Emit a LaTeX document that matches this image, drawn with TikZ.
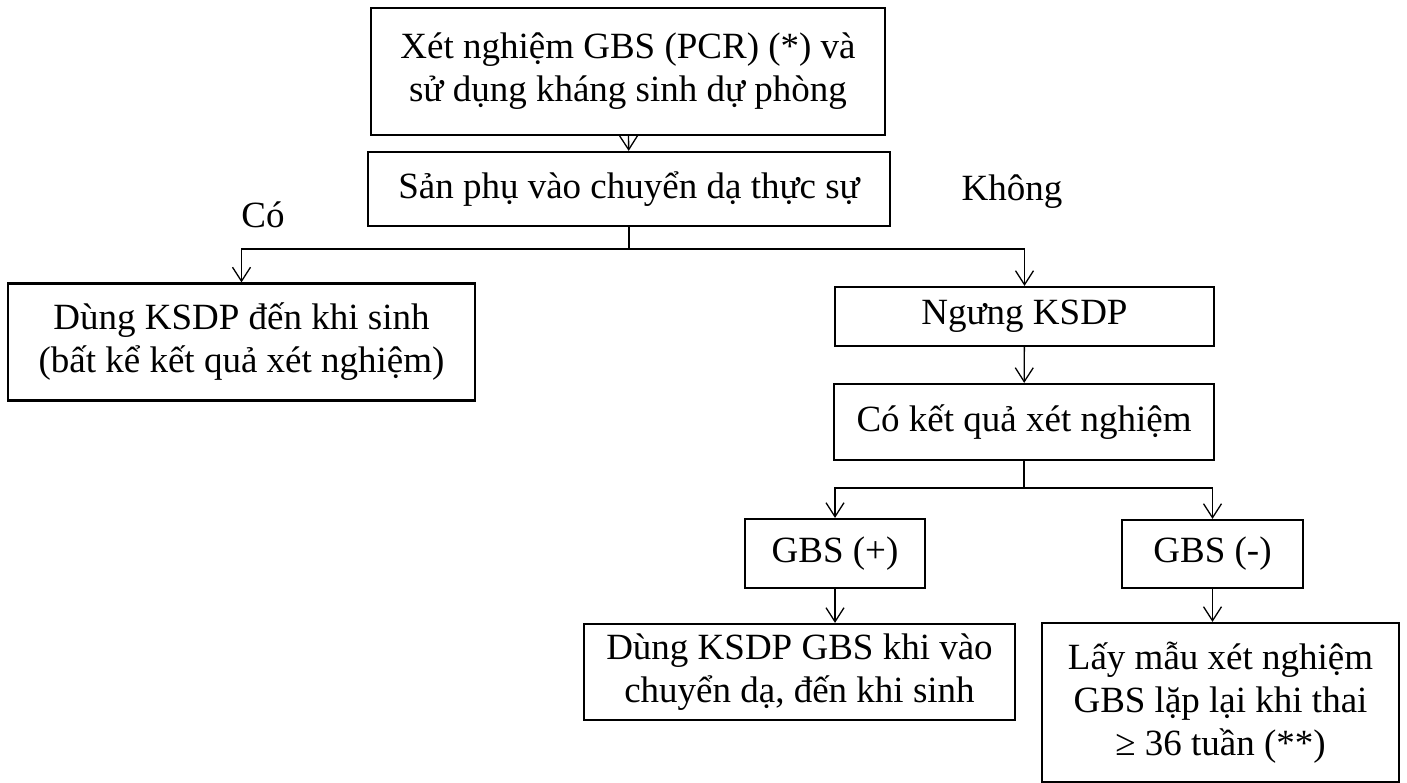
\documentclass[tikz,border=0pt]{standalone}
\usepackage{fontspec}
\setmainfont{Liberation Serif}
\usetikzlibrary{arrows.meta}

\begin{document}
\begin{tikzpicture}[x=1pt, y=-1pt,
  box/.style = {draw, line width=2.2pt, align=center, inner sep=0pt, font=\fontsize{37}{43}\selectfont},
  arr/.style = {line width=1.3pt, -{Straight Barb[length=14pt, width=18pt]}},
  lbl/.style = {font=\fontsize{37}{43}\selectfont}]
\useasboundingbox (0,0) rectangle (1407,783);
\node[box, minimum width=514, minimum height=127] (test) at (628, 71.5) {Xét nghiệm GBS (PCR) (*) và\\sử dụng kháng sinh dự phòng};
\node[box, minimum width=522, minimum height=74] (labor) at (629, 189) {Sản phụ vào chuyển dạ thực sự};
\node[box, minimum width=467, minimum height=117] (always) at (241.5, 342) {Dùng KSDP đến khi sinh\\(bất kể kết quả xét nghiệm)};
\node[box, minimum width=379, minimum height=59] (stop) at (1024.5, 316.5) {Ngưng KSDP};
\node[box, minimum width=380, minimum height=76] (result) at (1024, 422) {Có kết quả xét nghiệm};
\node[box, minimum width=180, minimum height=69] (gbspos) at (835, 553.5) {GBS (+)};
\node[box, minimum width=181, minimum height=68] (gbsneg) at (1212.5, 554) {GBS (-)};
\node[box, minimum width=431, minimum height=96] (treat) at (799.5, 672) {Dùng KSDP GBS khi vào\\chuyển dạ, đến khi sinh};
\node[box, minimum width=357, minimum height=159] (retest) at (1220.5, 702.5) {Lấy mẫu xét nghiệm\\GBS lặp lại khi thai\\≥ 36 tuần (**)};
\node[lbl] (yes) at (263, 215) {Có};
\node[lbl] (no) at (1012, 192) {Không};

\draw[arr] (test) -- (labor);
\draw[line width=1.3pt] (labor.south) -- ++(0,22) coordinate (fork1);
\draw[arr] (fork1) -| (always.north);
\draw[arr] (fork1) -| (stop.north);
\draw[arr] (stop) -- (result);
\draw[line width=1.3pt] (result.south) -- ++(0,27) coordinate (fork2);
\draw[arr] (fork2) -| (gbspos.north);
\draw[arr] (fork2) -| (gbsneg.north);
\draw[arr] (gbspos.south) -- (gbspos.south |- treat.north);
\draw[arr] (gbsneg.south) -- (gbsneg.south |- retest.north);
\end{tikzpicture}
\end{document}
